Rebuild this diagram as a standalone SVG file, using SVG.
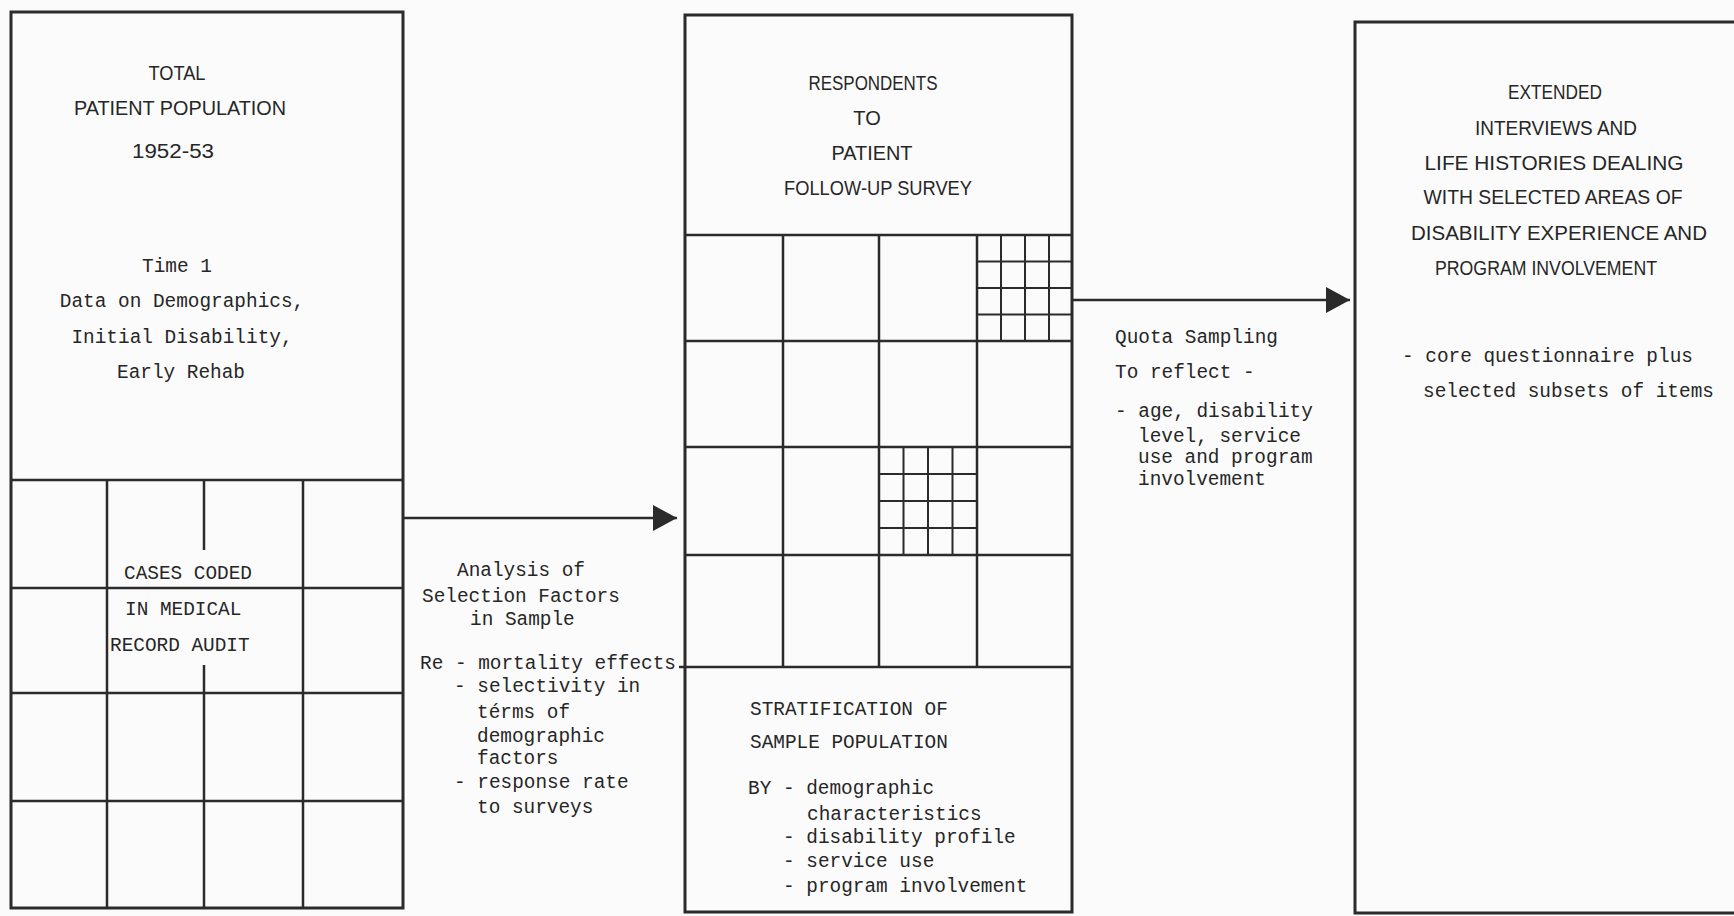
<svg xmlns="http://www.w3.org/2000/svg" width="1734" height="916" viewBox="0 0 1734 916">
<style>
.bg{fill:#fbfbfb}
.box{fill:none;stroke:#2b2b2b;stroke-width:3}
.grid{fill:none;stroke:#2b2b2b;stroke-width:2.5}
.fine{fill:none;stroke:#2b2b2b;stroke-width:2}
.conn{fill:none;stroke:#2b2b2b;stroke-width:2.5}
.hd{font-family:"Liberation Sans",Arial,sans-serif;font-size:20px;fill:#262626;text-anchor:middle}
.tw{font-family:"Liberation Mono","DejaVu Sans Mono",monospace;font-size:19.4px;fill:#262626}
.twc{font-family:"Liberation Mono","DejaVu Sans Mono",monospace;font-size:19.4px;fill:#262626;text-anchor:middle}
</style>
<defs>
<marker id="arrow" markerUnits="userSpaceOnUse" markerWidth="26" markerHeight="28" refX="24" refY="13" orient="auto">
<path d="M0,0 L24,13 L0,26 Z" fill="#2b2b2b"/>
</marker>
</defs>
<rect class="bg" x="0" y="0" width="1734" height="916"/>

<g id="node-total">
<rect class="box" x="11" y="12" width="392" height="896"/>
<line class="grid" x1="11" y1="480" x2="403" y2="480"/>
<line class="grid" x1="11" y1="588" x2="403" y2="588"/>
<line class="grid" x1="11" y1="693" x2="403" y2="693"/>
<line class="grid" x1="11" y1="801" x2="403" y2="801"/>
<line class="grid" x1="107" y1="480" x2="107" y2="908"/>
<line class="grid" x1="204" y1="480" x2="204" y2="550"/>
<line class="grid" x1="204" y1="665" x2="204" y2="908"/>
<line class="grid" x1="303" y1="480" x2="303" y2="908"/>
<text class="hd" x="177" y="80" textLength="57" lengthAdjust="spacingAndGlyphs">TOTAL</text>
<text class="hd" x="180" y="115" textLength="212" lengthAdjust="spacingAndGlyphs">PATIENT POPULATION</text>
<text class="hd" x="173" y="158" font-size="30" textLength="82" lengthAdjust="spacingAndGlyphs">1952-53</text>
<text class="twc" x="177" y="272">Time 1</text>
<text class="twc" x="182" y="307">Data on Demographics,</text>
<text class="twc" x="182" y="343">Initial Disability,</text>
<text class="twc" x="181" y="378">Early Rehab</text>
<text class="tw" x="124" y="579">CASES CODED</text>
<text class="tw" x="125" y="615">IN MEDICAL</text>
<text class="tw" x="110" y="651">RECORD AUDIT</text>
</g>

<g id="node-respondents">
<rect class="box" x="685" y="15" width="387" height="897"/>
<line class="grid" x1="685" y1="235" x2="1072" y2="235"/>
<line class="grid" x1="685" y1="341" x2="1072" y2="341"/>
<line class="grid" x1="685" y1="447" x2="1072" y2="447"/>
<line class="grid" x1="685" y1="555" x2="1072" y2="555"/>
<line class="grid" x1="679" y1="667" x2="1072" y2="667"/>
<line class="grid" x1="783" y1="235" x2="783" y2="667"/>
<line class="grid" x1="879" y1="235" x2="879" y2="667"/>
<line class="grid" x1="977" y1="235" x2="977" y2="667"/>
<path class="fine" d="M1001,235V341M1025,235V341M1049,235V341M977,261.5H1072M977,288H1072M977,314.5H1072"/>
<path class="fine" d="M903.5,447V555M928,447V555M952.5,447V555M879,474H977M879,501H977M879,528H977"/>
<text class="hd" x="873" y="90" textLength="129" lengthAdjust="spacingAndGlyphs">RESPONDENTS</text>
<text class="hd" x="867" y="125">TO</text>
<text class="hd" x="872" y="160" textLength="81" lengthAdjust="spacingAndGlyphs">PATIENT</text>
<text class="hd" x="878" y="195" textLength="188" lengthAdjust="spacingAndGlyphs">FOLLOW-UP SURVEY</text>
<text class="tw" x="750" y="715">STRATIFICATION OF</text>
<text class="tw" x="750" y="748">SAMPLE POPULATION</text>
<text class="tw" x="748" y="794">BY - demographic</text>
<text class="tw" x="807" y="820">characteristics</text>
<text class="tw" x="783" y="843">- disability profile</text>
<text class="tw" x="783" y="867">- service use</text>
<text class="tw" x="783" y="892">- program involvement</text>
</g>

<g id="node-extended">
<path class="box" d="M1734,22H1355V913H1734"/>
<text class="hd" x="1555" y="99" textLength="94" lengthAdjust="spacingAndGlyphs">EXTENDED</text>
<text class="hd" x="1556" y="135" textLength="162" lengthAdjust="spacingAndGlyphs">INTERVIEWS AND</text>
<text class="hd" x="1554" y="170" textLength="259" lengthAdjust="spacingAndGlyphs">LIFE HISTORIES DEALING</text>
<text class="hd" x="1553" y="204" textLength="259" lengthAdjust="spacingAndGlyphs">WITH SELECTED AREAS OF</text>
<text class="hd" x="1559" y="240" textLength="296" lengthAdjust="spacingAndGlyphs">DISABILITY EXPERIENCE AND</text>
<text class="hd" x="1546" y="275" textLength="222" lengthAdjust="spacingAndGlyphs">PROGRAM INVOLVEMENT</text>
<text class="tw" x="1402" y="362">- core questionnaire plus</text>
<text class="tw" x="1423" y="397">selected subsets of items</text>
</g>

<g id="connectors">
<line class="conn" x1="403" y1="518" x2="677" y2="518" marker-end="url(#arrow)"/>
<line class="conn" x1="1072" y1="300" x2="1350" y2="300" marker-end="url(#arrow)"/>
</g>

<g id="label-analysis">
<text class="tw" x="457" y="576">Analysis of</text>
<text class="tw" x="422" y="602">Selection Factors</text>
<text class="tw" x="470" y="625">in Sample</text>
<text class="tw" x="420" y="669">Re - mortality effects</text>
<text class="tw" x="454" y="692">- selectivity in</text>
<text class="tw" x="477" y="718">térms of</text>
<text class="tw" x="477" y="742">demographic</text>
<text class="tw" x="477" y="764">factors</text>
<text class="tw" x="454" y="788">- response rate</text>
<text class="tw" x="477" y="813">to surveys</text>
</g>

<g id="label-quota">
<text class="tw" x="1115" y="343">Quota Sampling</text>
<text class="tw" x="1115" y="378">To reflect -</text>
<text class="tw" x="1115" y="417">- age, disability</text>
<text class="tw" x="1138" y="442">level, service</text>
<text class="tw" x="1138" y="463">use and program</text>
<text class="tw" x="1138" y="485">involvement</text>
</g>
</svg>
